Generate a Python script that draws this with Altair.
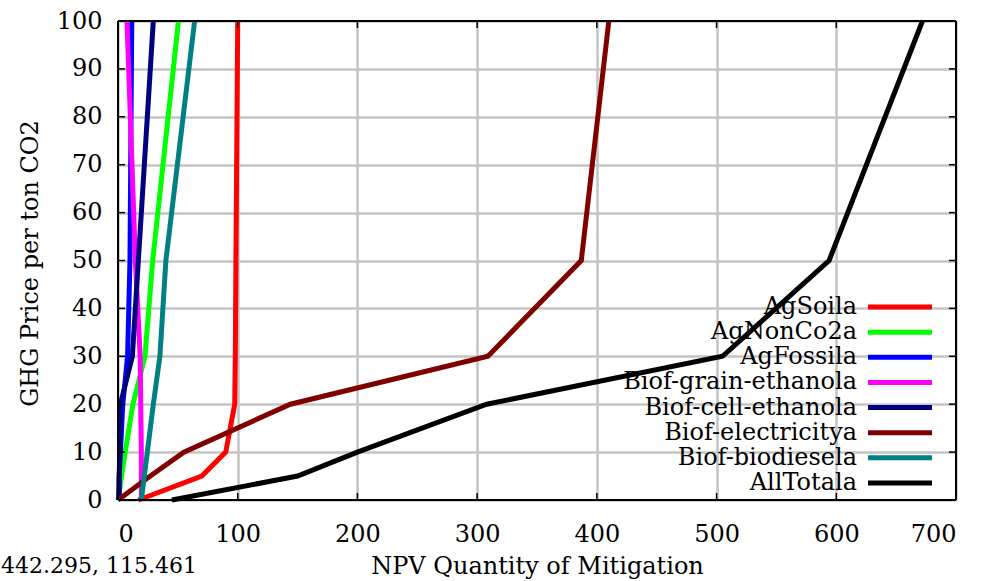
import altair as alt
import pandas as pd

# ---------------- data ----------------
prices = [0, 5, 10, 20, 30, 50, 100]
series_names = ["AgSoila", "AgNonCo2a", "AgFossila", "Biof-grain-ethanola",
                "Biof-cell-ethanola", "Biof-electricitya", "Biof-biodiesela", "AllTotala"]
series_colors = ["#ff0000", "#00ff00", "#0000ff", "#ff00ff",
                 "#000080", "#800000", "#008080", "#000000"]

ag_soil = [17, 70, 90, 97.5, 98, 98.5, 100]
ag_nonco2 = [0, 3, 6, 12.5, 22.5, 29, 50.5]
ag_fossil = [0.5, 1, 2, 4, 8, 10, 11.5]
biof_grain = [19.5, 19.5, 19.5, 19, 18.5, 14.5, 7.5]
biof_cell = [1, 1, 1.5, 2, 12, 17, 29.5]
biof_elec = [0, 27, 55, 144, 309, 387, 410]
biof_biodiesel = [19.5, 22, 24.5, 29.5, 35, 40, 64]
all_total = [45, 150, 200, 308, 505, 594, 672]

series_values = [ag_soil, ag_nonco2, ag_fossil, biof_grain,
                 biof_cell, biof_elec, biof_biodiesel, all_total]

x_ticks = [0, 100, 200, 300, 400, 500, 600, 700]
y_ticks = [0, 10, 20, 30, 40, 50, 60, 70, 80, 90, 100]
x_title = "NPV Quantity of Mitigation"
y_title = "GHG Price per ton CO2"
cursor_text = "442.295, 115.461"

# ---------------- tables ----------------
rows = []
for name, vals in zip(series_names, series_values):
    for p, q in zip(prices, vals):
        rows.append({"series": name, "price": p, "quantity": q})
df = pd.DataFrame(rows)
legend_df = pd.DataFrame({"series": series_names})
xt_df = pd.DataFrame({"t": x_ticks})
yt_df = pd.DataFrame({"t": y_ticks})
cursor_df = pd.DataFrame({"label": [cursor_text]})

W, H = 838, 479
FONT = "DejaVu Serif"
GRID = "#c4c4c4"

xscale = alt.Scale(domain=[0, 700], nice=False, zero=False)
yscale = alt.Scale(domain=[0, 100], nice=False, zero=False)

x_axis = alt.Axis(values=x_ticks, grid=True, gridColor=GRID, gridWidth=2.5,
                  tickSize=0, domain=False, labelFont=FONT, labelFontSize=24,
                  labelColor="black", labelPadding=34, labelBaseline="middle",
                  title=x_title, titleFont=FONT, titleFontSize=24,
                  titleFontWeight="normal", titleColor="black",
                  titleY=66, titleBaseline="middle")
y_axis = alt.Axis(values=y_ticks, grid=True, gridColor=GRID, gridWidth=2.5,
                  tickSize=0, domain=False, labelFont=FONT, labelFontSize=24,
                  labelColor="black", labelPadding=16,
                  title=y_title, titleFont=FONT, titleFontSize=24,
                  titleFontWeight="normal", titleColor="black",
                  titleX=-88, titleY=242, titleBaseline="middle", titleAlign="center")

color_scale = alt.Scale(domain=series_names, range=series_colors)

line_layers = []
for name, col in zip(series_names, series_colors):
    line_layers.append(
        alt.Chart(df).transform_filter(alt.datum.series == name)
        .mark_line(color=col, strokeWidth=5, strokeJoin="miter")
        .encode(x=alt.X("quantity:Q", scale=xscale, axis=x_axis),
                y=alt.Y("price:Q", scale=yscale, axis=y_axis),
                order=alt.Order("price:Q"))
    )

tick_col = "black"
left_ticks = alt.Chart(yt_df).mark_rule(color=tick_col, strokeWidth=1.5).encode(
    y=alt.Y("t:Q", scale=yscale, axis=y_axis), x=alt.value(0), x2=alt.value(7))
right_ticks = alt.Chart(yt_df).mark_rule(color=tick_col, strokeWidth=1.5).encode(
    y=alt.Y("t:Q", scale=yscale, axis=y_axis), x=alt.value(W - 7), x2=alt.value(W))
bottom_ticks = alt.Chart(xt_df).mark_rule(color=tick_col, strokeWidth=1.5).encode(
    x=alt.X("t:Q", scale=xscale, axis=x_axis), y=alt.value(H - 7), y2=alt.value(H))
top_ticks = alt.Chart(xt_df).mark_rule(color=tick_col, strokeWidth=1.5).encode(
    x=alt.X("t:Q", scale=xscale, axis=x_axis), y=alt.value(0), y2=alt.value(7))

frame_top = alt.Chart(cursor_df).mark_rule(color="black", strokeWidth=2).encode(
    y=alt.value(0), x=alt.value(0), x2=alt.value(W))
frame_bottom = alt.Chart(cursor_df).mark_rule(color="black", strokeWidth=2).encode(
    y=alt.value(H), x=alt.value(0), x2=alt.value(W))
frame_left = alt.Chart(cursor_df).mark_rule(color="black", strokeWidth=2).encode(
    x=alt.value(0), y=alt.value(0), y2=alt.value(H))
frame_right = alt.Chart(cursor_df).mark_rule(color="black", strokeWidth=2).encode(
    x=alt.value(W), y=alt.value(0), y2=alt.value(H))

main = alt.layer(*line_layers, left_ticks, right_ticks, bottom_ticks, top_ticks,
                 frame_top, frame_bottom, frame_left, frame_right)

leg_y = alt.Y("series:N", scale=alt.Scale(type="point", domain=series_names,
                                          range=[286, 462], padding=0), axis=None)
legend_text = alt.Chart(legend_df).mark_text(
    font=FONT, fontSize=24, align="right", baseline="middle", color="black"
).encode(x=alt.value(739), y=leg_y, text="series:N")
legend_rule = alt.Chart(legend_df).mark_rule(strokeWidth=5).encode(
    x=alt.value(750), x2=alt.value(814), y=leg_y,
    color=alt.Color("series:N", scale=color_scale, legend=None))

cursor = alt.Chart(cursor_df).mark_text(
    font=FONT, fontSize=22, align="left", baseline="middle", color="black"
).encode(x=alt.value(-117), y=alt.value(545), text="label:N")

chart = alt.layer(main, legend_text, legend_rule, cursor).resolve_scale(
    y="independent"
).properties(
    width=W, height=H,
    padding={"left": 118, "top": 21, "right": 29, "bottom": 81},
    autosize=alt.AutoSizeParams(type="none"),
    background="white",
).configure_view(stroke=None)

chart.save("out.html", embed_options={"renderer": "svg", "actions": False})
